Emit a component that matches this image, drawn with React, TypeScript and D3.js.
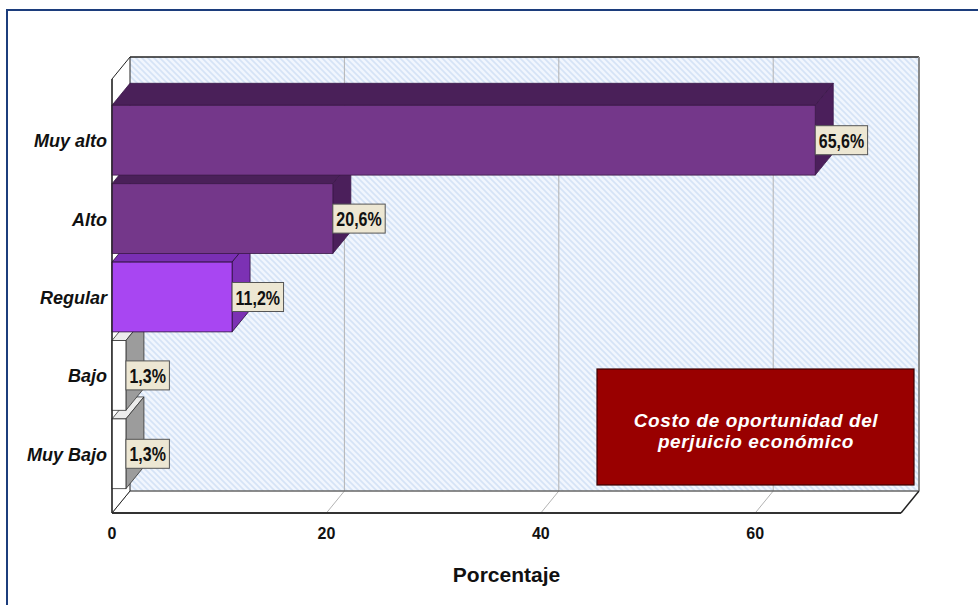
import React, { useMemo } from 'react';
import * as d3 from 'd3';

// Response categories (top to bottom) and their percentages
const categories = ['Muy alto', 'Alto', 'Regular', 'Bajo', 'Muy Bajo'];
const percentages = [65.6, 20.6, 11.2, 1.3, 1.3];
const valueLabels = ['65,6%', '20,6%', '11,2%', '1,3%', '1,3%'];
const xTicks = [0, 20, 40, 60];
const xMax = 73.6;
const axisTitle = 'Porcentaje';
const legendLines = ['Costo de oportunidad del', 'perjuicio económico'];

// Face colours per bar: front, top, side
const frontColors = ['#74378a', '#74378a', '#a846f2', '#ffffff', '#ffffff'];
const topColors = ['#4a2059', '#4a2059', '#7a2fb4', '#ececec', '#ececec'];
const sideColors = ['#4b1f5b', '#4b1f5b', '#7c31b4', '#9c9c9c', '#9c9c9c'];
const strokeColors = ['#3a1747', '#3a1747', '#2a0f3a', '#333333', '#333333'];

const W = 978;
const H = 605;

// 3D box geometry
const FL = 112; // front-left x
const FR = 901; // front-right x
const FT = 79; // front-top y
const FB = 513; // front-bottom y
const DX = 18; // depth offset x
const DY = -22; // depth offset y

const baseFont = '"Liberation Sans", Arial, sans-serif';
const LABEL_SIZE = 20;
const LABEL_SQUEEZE = 0.8; // condensed look for value labels

function measure(text: string, font: string): number {
  const c = document.createElement('canvas');
  const ctx = c.getContext('2d');
  if (!ctx) return text.length * 9;
  ctx.font = font;
  return ctx.measureText(text).width;
}

export default function App() {
  const x = useMemo(() => d3.scaleLinear().domain([0, xMax]).range([FL, FR]), []);
  const y = useMemo(
    () =>
      d3
        .scaleBand<string>()
        .domain(categories)
        .range([101, 493])
        .paddingInner(0.11)
        .paddingOuter(0.055),
    []
  );
  const bw = y.bandwidth();

  const labelFont = `bold ${LABEL_SIZE}px ${baseFont}`;
  const labelWidths = valueLabels.map((t) => measure(t, labelFont) * LABEL_SQUEEZE);

  const order = d3.range(categories.length).reverse();

  return (
    <svg
      width={W}
      height={H}
      style={{ position: 'absolute', left: 0, top: 0, background: '#ffffff' }}
    >
      <defs>
        <pattern id="hatch" patternUnits="userSpaceOnUse" width="6" height="6">
          <rect width="6" height="6" fill="#f1f6fe" />
          <path d="M-1,5 l2,2 M0,0 l6,6 M5,-1 l2,2" stroke="#d5e3f6" strokeWidth="1.6" />
        </pattern>
      </defs>

      {/* outer frame */}
      <rect x={7} y={10} width={W + 10} height={H + 10} fill="none" stroke="#1c3d7c" strokeWidth={2} />

      {/* back wall */}
      <rect x={FL + DX} y={FT + DY} width={FR - FL} height={FB - FT} fill="url(#hatch)" />
      {xTicks
        .filter((t) => t > 0)
        .map((t) => (
          <line key={`g${t}`} x1={x(t) + DX} x2={x(t) + DX} y1={FT + DY} y2={FB + DY} stroke="#b3b3b3" strokeWidth={1} />
        ))}

      {/* floor */}
      <polygon
        points={`${FL},${FB} ${FR},${FB} ${FR + DX},${FB + DY} ${FL + DX},${FB + DY}`}
        fill="#ffffff"
      />
      {xTicks
        .filter((t) => t > 0)
        .map((t) => (
          <line key={`f${t}`} x1={x(t)} y1={FB} x2={x(t) + DX} y2={FB + DY} stroke="#b3b3b3" strokeWidth={1} />
        ))}
      <line x1={FL + DX} x2={FR + DX} y1={FB + DY} y2={FB + DY} stroke="#666" strokeWidth={1.5} />
      <line x1={FL} y1={FB} x2={FL + DX} y2={FB + DY} stroke="#888" strokeWidth={1} />

      {/* left wall */}
      <polygon
        points={`${FL},${FT} ${FL + DX},${FT + DY} ${FL + DX},${FB + DY} ${FL},${FB}`}
        fill="#ffffff"
        stroke="#222"
        strokeWidth={1}
      />
      <line x1={FL + DX} x2={FR + DX} y1={FT + DY} y2={FT + DY} stroke="#222" strokeWidth={1.5} />
      <line x1={FR + DX} x2={FR + DX} y1={FT + DY} y2={FB + DY} stroke="#8a8a8a" strokeWidth={2} />

      {/* bars, drawn bottom to top so upper bars overlap lower top faces */}
      {order.map((i) => {
        const y0 = y(categories[i]) as number;
        const x1 = x(percentages[i]);
        return (
          <g key={categories[i]}>
            <polygon
              points={`${FL},${y0} ${FL + DX},${y0 + DY} ${x1 + DX},${y0 + DY} ${x1},${y0}`}
              fill={topColors[i]}
              stroke={strokeColors[i]}
              strokeWidth={0.8}
            />
            <polygon
              points={`${x1},${y0} ${x1 + DX},${y0 + DY} ${x1 + DX},${y0 + bw + DY} ${x1},${y0 + bw}`}
              fill={sideColors[i]}
              stroke={strokeColors[i]}
              strokeWidth={0.8}
            />
            <rect
              x={FL}
              y={y0}
              width={x1 - FL}
              height={bw}
              fill={frontColors[i]}
              stroke={strokeColors[i]}
              strokeWidth={0.8}
            />
          </g>
        );
      })}

      {/* front axis */}
      <line x1={FL} x2={FR} y1={FB} y2={FB} stroke="#333" strokeWidth={2} />
      <line x1={FR} y1={FB} x2={FR + DX} y2={FB + DY} stroke="#222" strokeWidth={1.5} />
      <line x1={FL} x2={FL} y1={FT} y2={FB} stroke="#222" strokeWidth={1.2} />

      {/* value labels */}
      {categories.map((c, i) => {
        const cy = (y(c) as number) + bw / 2;
        const x1 = x(percentages[i]);
        const w = labelWidths[i] + 7;
        return (
          <g key={`l${c}`}>
            <rect x={x1} y={cy - 14.5} width={w} height={29} fill="#ede7d3" stroke="#555" strokeWidth={1} />
            <text
              transform={`translate(${x1 + w / 2},${cy + 1}) scale(${LABEL_SQUEEZE},1)`}
              textAnchor="middle"
              dominantBaseline="central"
              fontFamily={baseFont}
              fontWeight="bold"
              fontSize={LABEL_SIZE}
              fill="#111"
            >
              {valueLabels[i]}
            </text>
          </g>
        );
      })}

      {/* category labels */}
      {categories.map((c) => (
        <text
          key={`c${c}`}
          x={107}
          y={(y(c) as number) + bw / 2 + 1}
          textAnchor="end"
          dominantBaseline="central"
          fontFamily={baseFont}
          fontWeight="bold"
          fontStyle="italic"
          fontSize={18}
          fill="#111"
        >
          {c}
        </text>
      ))}

      {/* tick labels */}
      {xTicks.map((t) => (
        <text
          key={`t${t}`}
          x={x(t)}
          y={539}
          textAnchor="middle"
          fontFamily={baseFont}
          fontWeight="bold"
          fontSize={16}
          fill="#111"
        >
          {t}
        </text>
      ))}

      {/* axis title */}
      <text
        x={(FL + FR) / 2}
        y={582}
        textAnchor="middle"
        fontFamily={baseFont}
        fontWeight="bold"
        fontSize={21}
        fill="#111"
      >
        {axisTitle}
      </text>

      {/* legend box */}
      <rect x={597} y={369} width={317} height={116} fill="#990000" stroke="#3a0000" strokeWidth={1.2} />
      {legendLines.map((line, k) => (
        <text
          key={line}
          x={756}
          y={427 + k * 20.5}
          textAnchor="middle"
          fontFamily={baseFont}
          fontWeight="bold"
          fontStyle="italic"
          fontSize={19}
          letterSpacing={0.6}
          fill="#ffffff"
        >
          {line}
        </text>
      ))}
    </svg>
  );
}
